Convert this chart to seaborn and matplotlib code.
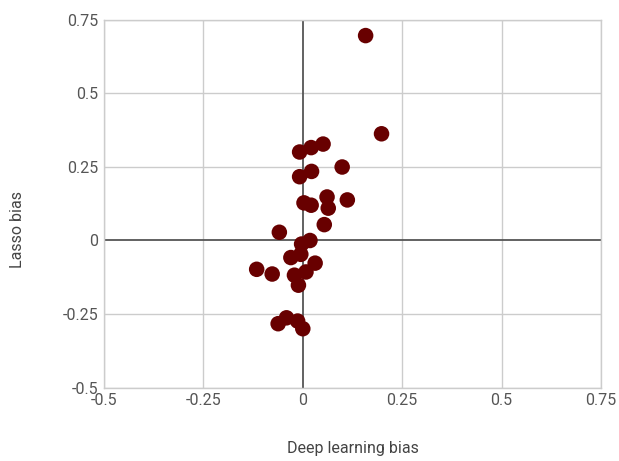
import matplotlib
matplotlib.use("Agg")
import matplotlib.pyplot as plt
import seaborn as sns
import pandas as pd

deep_bias = [0.158, 0.198, 0.051, 0.021, -0.008, 0.099, 0.022, -0.008, 0.061, 0.112,
             0.003, 0.021, 0.064, 0.054, -0.059, 0.018, -0.003, -0.005, -0.030, 0.031,
             -0.116, -0.077, 0.008, -0.021, -0.011, -0.062, -0.041, -0.013, 0.000]
lasso_bias = [0.697, 0.363, 0.328, 0.316, 0.301, 0.250, 0.235, 0.217, 0.148, 0.138,
              0.128, 0.120, 0.110, 0.054, 0.028, 0.000, -0.012, -0.047, -0.058, -0.077,
              -0.098, -0.114, -0.107, -0.118, -0.152, -0.283, -0.263, -0.274, -0.300]
ticks = [-0.5, -0.25, 0, 0.25, 0.5, 0.75]
tick_labels = ["-0.5", "-0.25", "0", "0.25", "0.5", "0.75"]

df = pd.DataFrame({"x": deep_bias, "y": lasso_bias})

sns.set_style("white")
plt.rcParams["font.family"] = ["Roboto", "DejaVu Sans"]

fig = plt.figure(figsize=(6.19, 4.61), dpi=100)
ax = fig.add_axes([104/619, 1 - 387.5/461, (601-104)/619, (387.5-20)/461])

for t in ticks:
    if t != 0:
        ax.axvline(t, color="#cccccc", lw=1, zorder=0)
        ax.axhline(t, color="#cccccc", lw=1, zorder=0)
ax.axvline(0, color="#555555", lw=1.3, zorder=1)
ax.axhline(0, color="#555555", lw=1.3, zorder=1)

sns.scatterplot(data=df, x="x", y="y", ax=ax, color="#680000", s=125,
                edgecolor="none", zorder=3)

ax.set_xlim(-0.5, 0.75)
ax.set_ylim(-0.5, 0.75)
ax.set_xticks(ticks)
ax.set_xticklabels(tick_labels)
ax.set_yticks(ticks)
ax.set_yticklabels(tick_labels)
ax.tick_params(axis="both", length=0, labelsize=11.5, colors="#555555", pad=4)
for sp in ax.spines.values():
    sp.set_color("#cccccc")
    sp.set_linewidth(1)

ax.set_xlabel("Deep learning bias", fontsize=11.5, color="#444444", labelpad=24)
ax.set_ylabel("Lasso bias", fontsize=11.5, color="#444444")
ax.yaxis.set_label_coords(-0.158, (387.5 - 230) / 367.5)

fig.savefig("out.png", dpi=100)
